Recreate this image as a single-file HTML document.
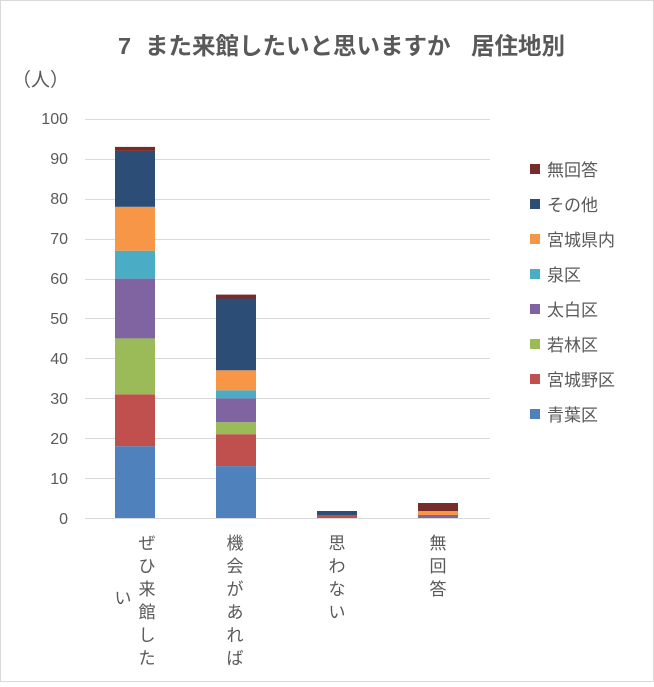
<!DOCTYPE html><html><head><meta charset="utf-8"><style>
body{margin:0;background:#fff}
svg text{font-family:"Liberation Sans","Noto Sans CJK JP",sans-serif;fill:#595959}
</style></head><body>
<svg width="654" height="682" xmlns="http://www.w3.org/2000/svg">
<rect x="0.5" y="0.5" width="653" height="681" fill="#fff" stroke="#d9d9d9"/>
<text x="118" y="54" font-size="23.5" font-weight="bold"><tspan>7</tspan><tspan x="145">また来館したいと思いますか</tspan><tspan x="471">居住地別</tspan></text>
<text x="12" y="86" font-size="19">（人）</text>
<g stroke="#d9d9d9" stroke-width="1">
<line x1="85" x2="490" y1="119.5" y2="119.5"/><line x1="85" x2="490" y1="159.5" y2="159.5"/>
<line x1="85" x2="490" y1="199.5" y2="199.5"/><line x1="85" x2="490" y1="239.5" y2="239.5"/>
<line x1="85" x2="490" y1="279.5" y2="279.5"/><line x1="85" x2="490" y1="318.5" y2="318.5"/>
<line x1="85" x2="490" y1="358.5" y2="358.5"/><line x1="85" x2="490" y1="398.5" y2="398.5"/>
<line x1="85" x2="490" y1="438.5" y2="438.5"/><line x1="85" x2="490" y1="478.5" y2="478.5"/>
<line x1="85" x2="490" y1="518.5" y2="518.5"/>
</g>
<g font-size="16" text-anchor="end">
<text x="68" y="124">100</text><text x="68" y="164">90</text><text x="68" y="204">80</text><text x="68" y="244">70</text><text x="68" y="284">60</text><text x="68" y="324">50</text><text x="68" y="364">40</text><text x="68" y="404">30</text><text x="68" y="444">20</text><text x="68" y="484">10</text><text x="68" y="524">0</text>
</g>
<rect x="115" y="446.2" width="40" height="71.8" fill="#4f81bd"/>
<rect x="115" y="394.3" width="40" height="51.9" fill="#c0504d"/>
<rect x="115" y="338.4" width="40" height="55.9" fill="#9bbb59"/>
<rect x="115" y="278.6" width="40" height="59.8" fill="#8064a2"/>
<rect x="115" y="250.7" width="40" height="27.9" fill="#4bacc6"/>
<rect x="115" y="206.8" width="40" height="43.9" fill="#f79646"/>
<rect x="115" y="150.9" width="40" height="55.9" fill="#2c4d75"/>
<rect x="115" y="146.9" width="40" height="4" fill="#772c2a"/>
<rect x="216" y="466.1" width="40" height="51.9" fill="#4f81bd"/>
<rect x="216" y="434.2" width="40" height="31.9" fill="#c0504d"/>
<rect x="216" y="422.2" width="40" height="12" fill="#9bbb59"/>
<rect x="216" y="398.3" width="40" height="23.9" fill="#8064a2"/>
<rect x="216" y="390.3" width="40" height="8" fill="#4bacc6"/>
<rect x="216" y="370.4" width="40" height="19.9" fill="#f79646"/>
<rect x="216" y="298.5" width="40" height="71.8" fill="#2c4d75"/>
<rect x="216" y="294.6" width="40" height="4" fill="#772c2a"/>
<rect x="317" y="515" width="40" height="3" fill="#c0504d"/>
<rect x="317" y="511" width="40" height="4" fill="#2c4d75"/>
<rect x="418" y="515" width="40" height="3" fill="#8064a2"/>
<rect x="418" y="511" width="40" height="4" fill="#f79646"/>
<rect x="418" y="503" width="40" height="8" fill="#772c2a"/>
<g font-size="17" text-anchor="middle">
<text x="147" y="549">ぜ</text><text x="147" y="572">ひ</text><text x="147" y="595">来</text><text x="147" y="618">館</text><text x="147" y="641">し</text><text x="147" y="664">た</text>
<text x="123" y="604">い</text>
<text x="235" y="549">機</text><text x="235" y="572">会</text><text x="235" y="595">が</text><text x="235" y="618">あ</text><text x="235" y="641">れ</text><text x="235" y="664">ば</text>
<text x="337" y="549">思</text><text x="337" y="572">わ</text><text x="337" y="595">な</text><text x="337" y="618">い</text>
<text x="438" y="549">無</text><text x="438" y="572">回</text><text x="438" y="595">答</text>
</g>
<g font-size="17">
<rect x="530" y="164" width="10" height="10" fill="#772c2a"/><text x="547" y="176">無回答</text>
<rect x="530" y="199" width="10" height="10" fill="#2c4d75"/><text x="547" y="211">その他</text>
<rect x="530" y="234" width="10" height="10" fill="#f79646"/><text x="547" y="246">宮城県内</text>
<rect x="530" y="269" width="10" height="10" fill="#4bacc6"/><text x="547" y="281">泉区</text>
<rect x="530" y="304" width="10" height="10" fill="#8064a2"/><text x="547" y="316">太白区</text>
<rect x="530" y="339" width="10" height="10" fill="#9bbb59"/><text x="547" y="351">若林区</text>
<rect x="530" y="374" width="10" height="10" fill="#c0504d"/><text x="547" y="386">宮城野区</text>
<rect x="530" y="409" width="10" height="10" fill="#4f81bd"/><text x="547" y="421">青葉区</text>
</g>
</svg>
</body></html>
